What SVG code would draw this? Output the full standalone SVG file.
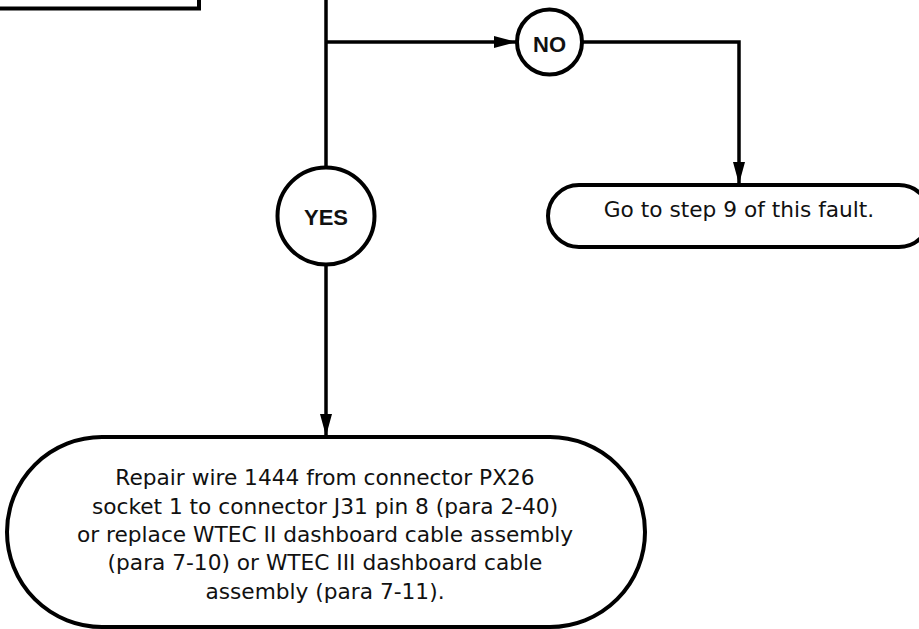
<svg xmlns="http://www.w3.org/2000/svg" width="919" height="629" viewBox="0 0 919 629">
<style>
.ln{fill:none;stroke:#000;stroke-width:3.5}
.shp{fill:#fff;stroke:#000;stroke-width:4}
.t{font-family:"DejaVu Sans",Verdana,sans-serif;font-size:21.7px;fill:#111;text-anchor:middle}
.b{font-family:"Liberation Sans",Arial,sans-serif;font-size:22px;font-weight:bold;fill:#111;text-anchor:middle}
</style>
<defs>
<marker id="ah" markerUnits="userSpaceOnUse" markerWidth="24" markerHeight="12" refX="22" refY="6" orient="auto">
<path d="M0,0 L22,6 L0,12 Z" fill="#000"/>
</marker>
</defs>
<g id="prev">
<rect class="shp" x="-10" y="-20" width="209" height="28.5"/>
</g>
<g id="connectors">
<line class="ln" x1="326" y1="0" x2="326" y2="167"/>
<line class="ln" x1="326" y1="42" x2="516" y2="42" marker-end="url(#ah)"/>
<polyline class="ln" points="582,42 739,42 739,184" marker-end="url(#ah)"/>
<line class="ln" x1="326" y1="265" x2="326" y2="436" marker-end="url(#ah)"/>
</g>
<g id="no">
<circle class="shp" cx="549.5" cy="42" r="32.5"/>
<text class="b" x="549.5" y="51.5">NO</text>
</g>
<g id="yes">
<circle class="shp" cx="326" cy="216" r="48.5"/>
<text class="b" x="326" y="224.5">YES</text>
</g>
<g id="goto">
<rect class="shp" x="548" y="185" width="382" height="62" rx="31"/>
<text class="t" x="739" y="217">Go to step 9 of this fault.</text>
</g>
<g id="repair">
<rect class="shp" x="7" y="437" width="638" height="190" rx="95"/>
<text class="t" x="325" y="485">Repair wire 1444 from connector PX26</text>
<text class="t" x="325" y="513.5">socket 1 to connector J31 pin 8 (para 2-40)</text>
<text class="t" x="325" y="542">or replace WTEC II dashboard cable assembly</text>
<text class="t" x="325" y="570">(para 7-10) or WTEC III dashboard cable</text>
<text class="t" x="325" y="598.5">assembly (para 7-11).</text>
</g>
</svg>
